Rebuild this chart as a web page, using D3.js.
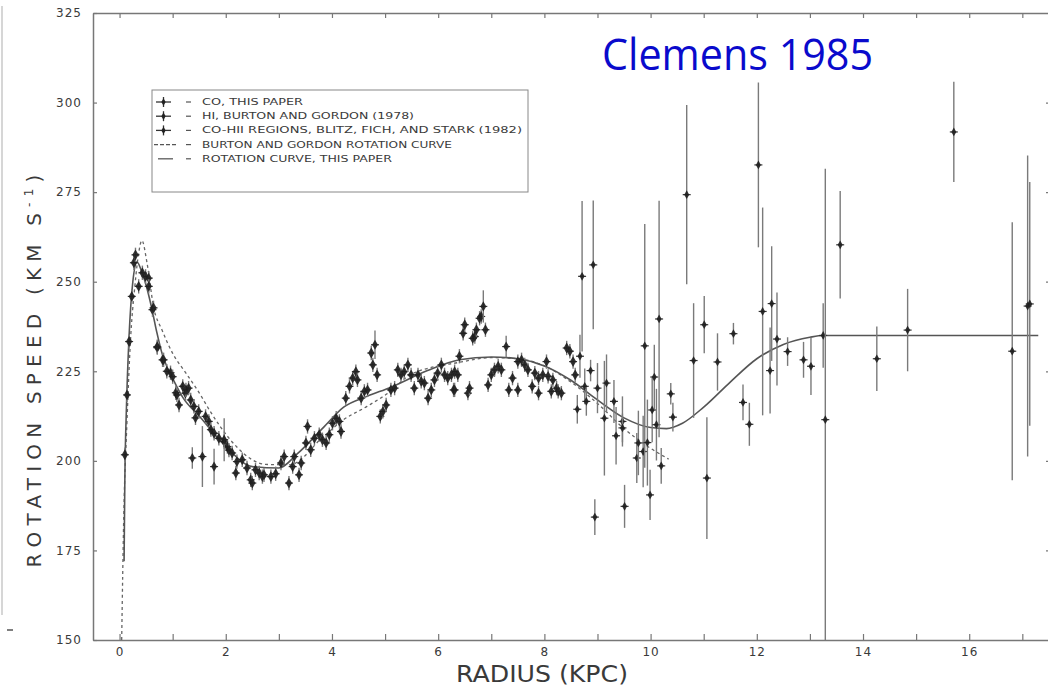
<!DOCTYPE html>
<html>
<head>
<meta charset="utf-8">
<script src="https://cdn.jsdelivr.net/npm/d3@7"></script>
<style>
  html, body { margin: 0; padding: 0; background: #fff; }
  svg { display: block; }
  .scan { font-family: "DejaVu Sans", sans-serif; fill: #3a3a3a; }
</style>
</head>
<body>
<div id="chart"></div>
<script>
// ---- data (radius kpc, speed km/s, half error) ----
const coPoints = [
  [0.10,201.7],[0.14,218.4],[0.18,233.3],[0.23,245.9],[0.27,255.3],[0.30,257.5],
  [0.36,248.7],[0.43,252.5],[0.49,251.5],[0.55,251.0],[0.55,248.7],[0.62,242.2],
  [0.64,242.7],[0.71,231.6],[0.71,231.9],[0.81,228.2],[0.83,228.2],[0.89,225.0],
  [0.96,224.6],[1.00,223.5],[1.06,219.0],[1.08,218.4],[1.12,215.6],[1.19,220.8],
  [1.24,218.9],[1.25,219.8],[1.30,220.3],[1.34,217.0],[1.40,215.2],[1.43,212.0],
  [1.49,213.8],[1.62,212.4],[1.68,211.0],[1.72,208.7],[1.78,207.7],[1.87,206.3],
  [1.97,205.4],[2.03,204.0],[2.06,203.0],[2.12,202.2],[2.19,196.6],[2.21,199.8],
  [2.31,200.3],[2.40,198.0],[2.47,194.7],[2.50,193.8],[2.56,197.5],[2.63,196.6],
  [2.69,195.6],[2.72,196.1],[2.85,195.6],[2.94,196.4],[3.04,199.4],[3.10,201.2],
  [3.19,193.8],[3.26,198.4],[3.29,201.2],[3.38,196.1],[3.42,199.4],[3.51,205.0],
  [3.54,209.6],[3.60,203.1],[3.67,206.3],[3.76,207.3],[3.82,205.9],[3.89,205.0],
  [3.95,207.3],[4.01,210.5],[4.08,211.9],[4.14,211.0],[4.17,208.2],[4.26,217.5],
  [4.33,220.8],[4.39,223.1],[4.45,224.9],[4.48,222.6],[4.55,217.5],[4.61,219.4],
  [4.67,219.8],[4.74,230.1],[4.77,226.8],[4.85,224.0],[4.91,212.4],[4.96,213.8],
  [5.02,215.6],[5.11,219.8],[5.18,220.3],[5.24,225.4],[5.30,224.0],[5.36,224.9],
  [5.43,226.8],[5.49,224.0],[5.55,220.3],[5.62,224.0],[5.68,222.2],[5.74,221.7],
  [5.81,217.5],[5.87,219.8],[5.93,222.6],[5.99,224.5],[6.06,226.8],[6.12,224.0],
  [6.18,223.1],[6.25,224.0],[6.29,219.8],[6.31,224.9],[6.31,219.8],[6.37,224.0],
  [6.40,229.2],[6.47,235.6],[6.50,238.0],[6.56,218.9],[6.59,220.3],[6.65,234.2],
  [6.69,234.7],[6.72,236.6],[6.78,239.8],[6.81,240.3],[6.89,236.6],[6.94,221.2],
  [7.00,224.0],[7.06,225.4],[7.13,226.4],[7.19,225.4],[7.33,219.8],[7.40,223.1],
  [7.50,219.8],[7.50,227.7],[7.57,228.2],[7.63,226.8],[7.69,225.4],[7.77,220.8],
  [7.82,224.5],[7.89,223.1],[7.89,218.9],[7.97,224.0],[8.04,227.7],[8.07,223.6],
  [8.13,219.4],[8.16,222.6],[8.23,220.3],[8.26,219.4],[8.32,218.9],[8.42,231.5],
  [8.48,230.6],[8.54,227.7],[8.58,224.0]
];

const hiPoints = [
  [1.37,200.8,3],[1.56,201.2,8.5],[1.78,198.4,5],[1.97,205.9,6],
  [4.81,232.4,4],[6.85,243.1,4.5],[7.28,231.9,3]
];

const hiiPoints = [
  [8.62,214.4,4],[8.67,229.2,6],[8.71,251.5,21],[8.76,220.8,5],[8.79,216.6,4],
  [8.87,225.2,3],[8.92,254.7,18],[8.95,184.3,5],[9.00,220.3,7],[9.13,211.9,16],
  [9.17,221.7,8],[9.31,216.6,6],[9.35,207.0,8],[9.47,211.0,7],[9.47,209.2,4],
  [9.51,187.3,6],[9.74,200.8,7],[9.77,205.0,9],[9.86,202.6,10],[9.89,232.1,34],
  [9.94,205.1,12],[9.99,190.5,7],[10.03,214.2,9],[10.07,223.4,9],[10.11,210.1,10],
  [10.16,239.6,33],[10.20,198.6,5],[10.38,218.7,3],[10.42,212.2,4],[10.68,274.3,25],
  [10.81,228.0,16],[11.01,238.0,8],[11.06,195.2,17],[11.26,227.6,8],[11.56,235.5,3],
  [11.74,216.3,5],[11.86,210.2,6],[12.03,282.6,23],[12.11,241.7,29],[12.25,225.2,12],
  [12.28,243.9,16],[12.38,234.0,13],[12.58,230.5,4],[12.88,228.2,5],[13.02,226.4,8],
  [13.25,235.0,9],[13.29,211.5,70],[13.57,260.3,15],[14.26,228.5,9],[14.84,236.5,11.5],
  [15.71,291.8,14],[16.81,230.6,36],[17.10,243.2,42],[17.14,243.8,34]
];

const burtonCurve = [
  [0.04,150],[0.08,185],[0.14,211],[0.20,232],[0.29,249],[0.36,258],[0.42,261.5],
  [0.52,255],[0.64,243],[0.80,236.5],[1.00,230],[1.25,224.5],[1.50,219],[1.70,214],
  [1.90,209.5],[2.20,204],[2.50,200.3],[2.75,199],[3.20,198.9],[3.84,206.8],
  [4.22,211.5],[4.66,215.2],[5.10,219.4],[5.47,224],[6.40,227.5],[7.00,228.8],
  [7.50,228.5],[8.00,226.5],[8.50,222],[9.00,216],[9.50,209],[10.00,203.5],[10.34,200.5]
];

const fitCurve = [
  [0.085,172],[0.10,195],[0.13,215],[0.18,235],[0.25,250],[0.33,255.5],[0.40,253.5],
  [0.50,249],[0.60,243],[0.70,236],[0.80,230],[0.90,226],[1.00,223],[1.20,217.5],
  [1.50,212.5],[2.00,204],[2.50,198.4],[3.00,198],[3.35,202],[3.85,209.5],[4.22,215],
  [4.66,218],[5.10,220.5],[5.80,225.2],[6.40,228.2],[7.00,229],[7.50,228.5],[8.00,226.5],
  [8.50,222.5],[9.00,217],[9.50,212],[10.00,209.3],[10.30,209],[10.60,210.5],[11.00,215],
  [11.50,222],[12.00,228.5],[12.50,232.5],[13.00,234.5],[13.25,235],[17.30,235]
];

const xTicks = d3.range(0, 18);
const yTicks = [150, 175, 200, 225, 250, 275, 300, 325];

const legendItems = [
  { type: "point", label: "CO, THIS PAPER" },
  { type: "point", label: "HI, BURTON AND GORDON (1978)" },
  { type: "point", label: "CO-HII REGIONS, BLITZ, FICH, AND STARK (1982)" },
  { type: "dash", label: "BURTON AND GORDON ROTATION CURVE" },
  { type: "line", label: "ROTATION CURVE, THIS PAPER" }
];
const legendWidths = [101, 212, 320, 250, 190];

// ---- layout ----
const W = 1048, H = 686;
const x = d3.scaleLinear().domain([-0.5, 17.54]).range([93, 1051]);
const y = d3.scaleLinear().domain([150, 325]).range([640, 13]);

const svg = d3.select("#chart").append("svg")
  .attr("width", W).attr("height", H);

svg.append("defs").append("clipPath").attr("id", "plot")
  .append("rect").attr("x", 93).attr("y", 13).attr("width", 958).attr("height", 627);

// scan frame artefacts on the far left
svg.append("line").attr("x1", 2).attr("x2", 2).attr("y1", 6).attr("y2", 615)
  .attr("stroke", "#c8c8c8").attr("stroke-width", 1.5);
svg.append("line").attr("x1", 7).attr("x2", 13).attr("y1", 630).attr("y2", 630)
  .attr("stroke", "#555").attr("stroke-width", 1.5);

// axes (ticks pointing inward, as in the scan)
function styleAxis(g) {
  g.selectAll(".domain").attr("stroke", "#777").attr("stroke-width", 1.5);
  g.selectAll(".tick line").attr("stroke", "#777").attr("stroke-width", 1.2);
  g.selectAll(".tick text").attr("class", "scan")
    .style("font-size", "12px").style("letter-spacing", "1px").attr("fill", "#444");
}

svg.append("g").attr("transform", `translate(0,${y(150)})`)
  .call(d3.axisBottom(x).tickValues(xTicks).tickSizeInner(-6).tickSizeOuter(0)
    .tickPadding(7).tickFormat(d => d % 2 === 0 && d <= 16 ? d : ""))
  .call(styleAxis);

svg.append("g").attr("transform", `translate(0,${y(325)})`)
  .call(d3.axisTop(x).tickValues(xTicks).tickSizeInner(-5).tickSizeOuter(0).tickFormat(""))
  .call(styleAxis);

svg.append("g").attr("transform", `translate(${x(-0.5)},0)`)
  .call(d3.axisLeft(y).tickValues(yTicks).tickSizeInner(-4).tickSizeOuter(0).tickPadding(11))
  .call(styleAxis);

svg.append("g").attr("transform", `translate(${x(17.54)},0)`)
  .call(d3.axisRight(y).tickValues(yTicks).tickSizeInner(-5).tickSizeOuter(0).tickFormat(""))
  .call(styleAxis);

// axis titles
svg.append("text").attr("class", "scan")
  .attr("x", 542).attr("y", 682).attr("text-anchor", "middle")
  .attr("textLength", 172).attr("lengthAdjust", "spacingAndGlyphs")
  .style("font-size", "23px").attr("fill", "#444")
  .text("RADIUS (KPC)");

const yl = svg.append("text").attr("class", "scan")
  .attr("transform", "translate(41,368) rotate(-90)")
  .attr("text-anchor", "middle")
  .style("font-size", "20px").style("letter-spacing", "6.2px").attr("fill", "#444");
yl.append("tspan").text("ROTATION SPEED (KM S");
yl.append("tspan").attr("dy", -8).style("font-size", "12px").text("-1");
yl.append("tspan").attr("dy", 8).text(")");

// curves
const plot = svg.append("g").attr("clip-path", "url(#plot)");
const line = d3.line().x(d => x(d[0])).y(d => y(d[1])).curve(d3.curveMonotoneX);

plot.append("path").datum(burtonCurve).attr("d", line)
  .attr("fill", "none").attr("stroke", "#666").attr("stroke-width", 1.3)
  .attr("stroke-dasharray", "3,3");
plot.append("path").datum(fitCurve).attr("d", line)
  .attr("fill", "none").attr("stroke", "#555").attr("stroke-width", 1.6);

// data points with error bars
function drawPoints(data, errDefault, dotR) {
  const g = plot.append("g");
  const pts = g.selectAll("g").data(data).join("g");
  pts.append("line")
    .attr("x1", d => x(d[0])).attr("x2", d => x(d[0]))
    .attr("y1", d => y(d[1] - (d[2] ?? errDefault)))
    .attr("y2", d => y(d[1] + (d[2] ?? errDefault)))
    .attr("stroke", "#7a7a7a").attr("stroke-width", 1.4);
  pts.append("line")
    .attr("x1", d => x(d[0]) - 4).attr("x2", d => x(d[0]) + 4)
    .attr("y1", d => y(d[1])).attr("y2", d => y(d[1]))
    .attr("stroke", "#333").attr("stroke-width", 1.2);
  pts.append("path")
    .attr("transform", d => `translate(${x(d[0])},${y(d[1])})`)
    .attr("d", d3.symbol(d3.symbolDiamond, dotR))
    .attr("fill", "#1e1e1e").attr("fill-opacity", 0.9);
}
drawPoints(coPoints, 2, 34);
drawPoints(hiPoints, 3, 30);
drawPoints(hiiPoints, 5, 22);

// legend
const lg = svg.append("g");
lg.append("rect").attr("x", 152).attr("y", 90).attr("width", 376).attr("height", 102)
  .attr("fill", "#fff").attr("stroke", "#888").attr("stroke-width", 1);

const rows = lg.selectAll("g.row").data(legendItems).join("g")
  .attr("class", "row")
  .attr("transform", (d, i) => `translate(0,${102 + i * 14.2})`);

rows.filter(d => d.type === "point").each(function () {
  const r = d3.select(this);
  r.append("line").attr("x1", 156).attr("x2", 171).attr("y1", 0).attr("y2", 0)
    .attr("stroke", "#333").attr("stroke-width", 1.3);
  r.append("line").attr("x1", 163.5).attr("x2", 163.5).attr("y1", -5).attr("y2", 5)
    .attr("stroke", "#333").attr("stroke-width", 1.3);
  r.append("path").attr("transform", "translate(163.5,0)")
    .attr("d", d3.symbol(d3.symbolDiamond, 16)).attr("fill", "#222");
});
rows.filter(d => d.type === "dash").append("line")
  .attr("x1", 154).attr("x2", 176).attr("y1", 0).attr("y2", 0)
  .attr("stroke", "#555").attr("stroke-width", 1.2).attr("stroke-dasharray", "4,2");
rows.filter(d => d.type === "line").append("line")
  .attr("x1", 158).attr("x2", 173).attr("y1", 0).attr("y2", 0)
  .attr("stroke", "#666").attr("stroke-width", 1.4);

rows.append("line").attr("x1", 186).attr("x2", 191).attr("y1", 0).attr("y2", 0)
  .attr("stroke", "#555").attr("stroke-width", 1.2);

rows.append("text").attr("class", "scan")
  .attr("x", 202).attr("y", 3)
  .attr("textLength", (d, i) => legendWidths[i]).attr("lengthAdjust", "spacingAndGlyphs")
  .style("font-size", "8px").attr("fill", "#444")
  .text(d => d.label);

// overlay caption
svg.append("text")
  .attr("x", 602).attr("y", 70)
  .attr("textLength", 271).attr("lengthAdjust", "spacingAndGlyphs")
  .style("font-family", "'Open Sans', 'Noto Sans', sans-serif")
  .style("font-size", "43px").attr("fill", "#0a0acc")
  .text("Clemens 1985");
</script>
</body>
</html>
